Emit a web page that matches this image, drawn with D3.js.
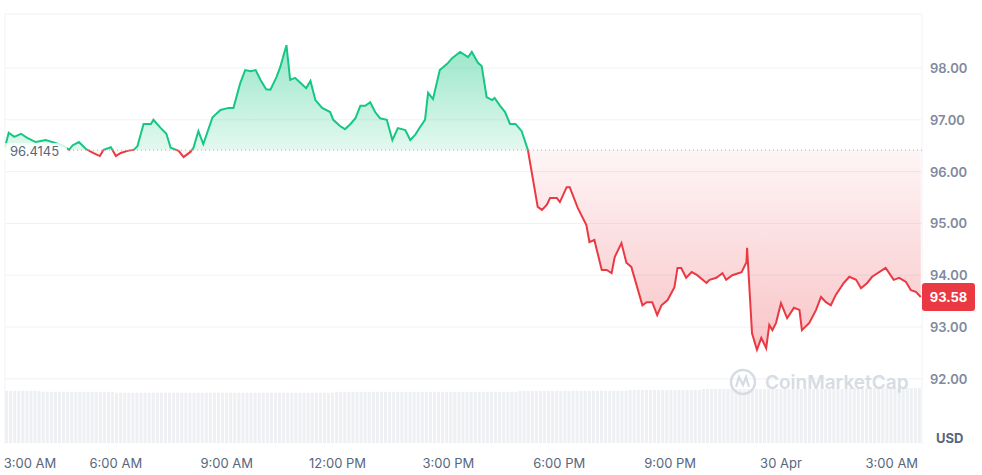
<!DOCTYPE html>
<html><head><meta charset="utf-8">
<script src="https://cdn.jsdelivr.net/npm/d3@7"></script>
<style>body{margin:0;background:#fff;font-family:Inter,"Noto Sans",sans-serif}</style>
</head><body><div id="chart"></div>
<script>
// minutes after 29 Apr 03:00, price in USD
var minutes = [0,6,15,26,36,50,66,83,96,104,110,120,131,143,154,160,172,180,188,199,209,215,225,237,241,253,262,269,282,290,301,306,314,322,337,350,363,371,382,390,399,407,415,424,431,441,447,457,463,471,480,489,496,504,515,528,533,544,552,561,569,577,585,593,601,609,620,629,638,650,658,666,674,682,687,695,706,718,726,739,752,758,768,774,782,791,795,804,812,820,829,839,849,865,872,880,885,896,901,912,917,930,944,949,957,969,977,985,990,1001,1009,1017,1035,1042,1051,1059,1066,1076,1087,1092,1098,1106,1115,1124,1139,1144,1155,1165,1171,1181,1196,1204,1205,1213,1221,1228,1236,1241,1246,1252,1260,1270,1281,1290,1294,1306,1317,1325,1333,1341,1349,1362,1371,1382,1390,1400,1408,1430,1443,1452,1463,1471,1479,1487];
var prices = [96.47,96.75,96.67,96.73,96.65,96.57,96.61,96.55,96.49,96.42,96.51,96.57,96.44,96.36,96.30,96.42,96.47,96.30,96.36,96.40,96.42,96.49,96.92,96.92,97.00,96.84,96.73,96.46,96.40,96.28,96.38,96.46,96.78,96.53,97.05,97.19,97.23,97.23,97.71,97.96,97.94,97.96,97.77,97.59,97.58,97.83,98.02,98.44,97.77,97.81,97.71,97.61,97.75,97.38,97.23,97.15,97.00,96.88,96.82,96.92,97.03,97.27,97.27,97.34,97.15,97.03,97.00,96.61,96.84,96.80,96.61,96.71,96.86,97.00,97.52,97.40,97.96,98.08,98.19,98.31,98.21,98.31,98.10,98.04,97.44,97.38,97.42,97.27,97.15,96.92,96.92,96.78,96.42,95.32,95.26,95.36,95.49,95.49,95.41,95.70,95.70,95.30,94.97,94.64,94.68,94.10,94.10,94.04,94.35,94.62,94.24,94.16,93.42,93.48,93.48,93.23,93.42,93.52,93.77,94.14,94.14,93.95,94.06,94.00,93.85,93.91,93.95,94.04,93.91,94.00,94.06,94.25,94.53,92.88,92.56,92.79,92.59,93.04,92.94,93.08,93.46,93.17,93.37,93.33,92.94,93.08,93.33,93.58,93.48,93.42,93.62,93.85,93.97,93.91,93.75,93.85,93.97,94.14,93.91,93.95,93.87,93.71,93.68,93.58];
var hourlyVolume = [55,54,54,53,53,53,53,53,53,54,54,54,54,54,55,55,55,56,56,57,57,57,57,58,58];
var openPrice = 96.4145;
var lastPrice = 93.58;
var yTicks = [92,93,94,95,96,97,98];
var xTickLabels = ["3:00 AM","6:00 AM","9:00 AM","12:00 PM","3:00 PM","6:00 PM","9:00 PM","30 Apr","3:00 AM"];

var W = 982, H = 475, left = 5, right = 922;
var t0 = new Date(2020, 3, 29, 3, 0);
var data = minutes.map(function (m, i) { return {t: new Date(t0.getTime() + m * 60000), v: prices[i]}; });

var x = d3.scaleTime().domain([t0, new Date(t0.getTime() + 1489 * 60000)]).range([left + 0, right]);
var y = d3.scaleLinear().domain([93, 98]).range([327, 68]);

var svg = d3.select("#chart").append("svg").attr("width", W).attr("height", H);
var defs = svg.append("defs");
var gg = defs.append("linearGradient").attr("id", "gup").attr("x1", 0).attr("x2", 0).attr("y1", 0).attr("y2", 1)
    .attr("gradientUnits", "userSpaceOnUse").attr("y1", y(98.5)).attr("y2", y(openPrice));
gg.append("stop").attr("offset", 0).attr("stop-color", "#16c784").attr("stop-opacity", 0.45);
gg.append("stop").attr("offset", 1).attr("stop-color", "#16c784").attr("stop-opacity", 0.12);
var gr = defs.append("linearGradient").attr("id", "gdn").attr("x1", 0).attr("x2", 0)
    .attr("gradientUnits", "userSpaceOnUse").attr("y1", y(openPrice)).attr("y2", y(92.5));
gr.append("stop").attr("offset", 0).attr("stop-color", "#ea3943").attr("stop-opacity", 0.05);
gr.append("stop").attr("offset", 1).attr("stop-color", "#ea3943").attr("stop-opacity", 0.3);
defs.append("clipPath").attr("id", "cup").append("rect").attr("x", 0).attr("y", 0).attr("width", W).attr("height", y(openPrice));
defs.append("clipPath").attr("id", "cdn").append("rect").attr("x", 0).attr("y", y(openPrice)).attr("width", W).attr("height", H);

// frame + grid
svg.append("line").attr("x1", left).attr("x2", left).attr("y1", 14).attr("y2", 444).attr("stroke", "#eff2f5");
svg.append("line").attr("x1", left).attr("x2", right).attr("y1", 14).attr("y2", 14).attr("stroke", "#eff2f5");
svg.append("line").attr("x1", right).attr("x2", right).attr("y1", 14).attr("y2", 444).attr("stroke", "#eff2f5");
svg.append("g").selectAll("line").data(yTicks).join("line")
    .attr("x1", left).attr("x2", right).attr("y1", function (d) { return y(d); }).attr("y2", function (d) { return y(d); })
    .attr("stroke", "#eff2f5");

// volume
var vy = d3.scaleLinear().domain([0, 58]).range([443, 388]);
var vx = d3.scaleBand().domain(d3.range(hourlyVolume.length)).range([left, right]).paddingInner(0);
var vol = svg.append("g");
hourlyVolume.forEach(function (v, i) {
    for (var k = 0; k < 9; k++) {
        vol.append("rect").attr("x", vx(i) + k * vx.bandwidth() / 9).attr("width", vx.bandwidth() / 9 - 1)
            .attr("y", vy(v)).attr("height", vy(0) - vy(v)).attr("fill", "#eef0f3");
    }
});

var area = d3.area().x(function (d) { return x(d.t); }).y0(y(openPrice)).y1(function (d) { return y(d.v); });
var line = d3.line().x(function (d) { return x(d.t); }).y(function (d) { return y(d.v); });
svg.append("path").datum(data).attr("d", area).attr("fill", "url(#gup)").attr("clip-path", "url(#cup)");
svg.append("path").datum(data).attr("d", area).attr("fill", "url(#gdn)").attr("clip-path", "url(#cdn)");
svg.append("line").attr("x1", left).attr("x2", right).attr("y1", y(openPrice)).attr("y2", y(openPrice))
    .attr("stroke", "#a6b0c3").attr("stroke-dasharray", "1,3");
svg.append("path").datum(data).attr("d", line).attr("fill", "none").attr("stroke", "#16c784").attr("stroke-width", 2).attr("clip-path", "url(#cup)");
svg.append("path").datum(data).attr("d", line).attr("fill", "none").attr("stroke", "#ea3943").attr("stroke-width", 2).attr("clip-path", "url(#cdn)");

// open price label
svg.append("rect").attr("x", 4).attr("y", y(openPrice) - 7).attr("width", 63).attr("height", 16).attr("fill", "#fff").attr("opacity", 0.8);
svg.append("text").attr("x", 10).attr("y", y(openPrice) + 6).text(openPrice).attr("font-size", 13).attr("fill", "#58667e");

// y axis labels
svg.append("g").selectAll("text").data(yTicks).join("text")
    .attr("x", 930).attr("y", function (d) { return y(d) + 5; }).text(function (d) { return d.toFixed(2); })
    .attr("font-size", 13).attr("font-weight", 600).attr("fill", "#808a9d");
svg.append("text").attr("x", 936).attr("y", 443).text("USD").attr("font-size", 13).attr("font-weight", 700).attr("fill", "#58667e");

// last price badge
svg.append("rect").attr("x", 922).attr("y", y(lastPrice) - 14).attr("width", 53).attr("height", 28).attr("rx", 3).attr("fill", "#ea3943");
svg.append("text").attr("x", 948.5).attr("y", y(lastPrice) + 5).attr("text-anchor", "middle").text(lastPrice.toFixed(2))
    .attr("font-size", 13).attr("font-weight", 700).attr("fill", "#fff");

// x axis labels
var tickTimes = xTickLabels.map(function (l, i) { return new Date(t0.getTime() + i * 180 * 60000); });
svg.append("g").selectAll("text").data(tickTimes).join("text")
    .attr("x", function (d, i) { return i === 0 ? 30 : x(d); }).attr("y", 468).attr("text-anchor", "middle")
    .text(function (d, i) { return xTickLabels[i]; }).attr("font-size", 13).attr("fill", "#58667e");

// watermark
var wm = svg.append("g").attr("transform", "translate(743,382)").attr("opacity", 0.9);
wm.append("circle").attr("r", 12).attr("fill", "none").attr("stroke", "#d3d9e2").attr("stroke-width", 2.5);
wm.append("path").attr("d", "M-7,5 L-4,-5 L0,3 L3,-5 L6,5").attr("fill", "none").attr("stroke", "#d3d9e2").attr("stroke-width", 2.2);
wm.append("text").attr("x", 22).attr("y", 7).text("CoinMarketCap").attr("font-size", 19).attr("font-weight", 600).attr("fill", "#d3d9e2");
</script></body></html>
